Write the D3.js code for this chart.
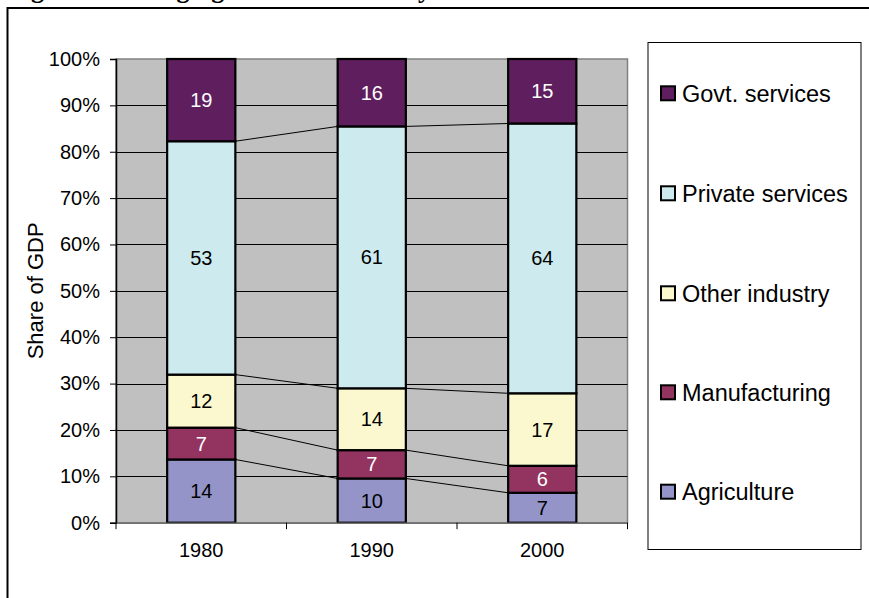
<!DOCTYPE html>
<html>
<head>
<meta charset="utf-8">
<script src="https://cdn.jsdelivr.net/npm/d3@7"></script>
<style>
  body { margin: 0; background: #fff; }
  text { font-family: Arial, "Liberation Sans", sans-serif; }
</style>
</head>
<body>
<svg width="869" height="598"></svg>
<script>
// data (raw values, shown as 100% stacked)
var years = ["1980", "1990", "2000"];
var sectors = ["Agriculture", "Manufacturing", "Other industry", "Private services", "Govt. services"];
var agriculture     = [14.3, 10.3, 7.1];
var manufacturing   = [7.2, 6.6, 6.4];
var otherIndustry   = [12.0, 14.4, 17.2];
var privateServices = [52.8, 61.0, 64.0];
var govtServices    = [18.6, 15.7, 15.3];
var yTicks = [0, .1, .2, .3, .4, .5, .6, .7, .8, .9, 1];

var colors = ["#9494c8", "#933360", "#fbf8d0", "#cdebef", "#5f1f5f"];
var labelColors = ["#000", "#fff", "#000", "#000", "#fff"];

var series = [agriculture, manufacturing, otherIndustry, privateServices, govtServices];
var rows = years.map(function(y, i) {
    var r = { year: y };
    sectors.forEach(function(s, j) { r[s] = series[j][i]; });
    return r;
});

var svg = d3.select("svg");

// page title, mostly cut off at top edge
svg.append("text")
   .attr("x", 8).attr("y", -2)
   .style("font-family", "'Liberation Serif', 'Times New Roman', serif")
   .style("font-weight", "bold")
   .style("font-size", "26px")
   .text("Figure 1: Changing GDP Structure by Sector");

// outer frame (runs off right and bottom)
svg.append("rect")
   .attr("x", 7.5).attr("y", 8).attr("width", 1000).attr("height", 700)
   .attr("fill", "none").attr("stroke", "#000").attr("stroke-width", 2);

var plotL = 116, plotR = 627.5, plotT = 59, plotB = 522.7;

var x = d3.scaleBand().domain(years).range([plotL, plotR]).paddingInner(0.6).paddingOuter(0.3);
var y = d3.scaleLinear().domain([0, 1]).range([plotB, plotT]);

var stack = d3.stack().keys(sectors).offset(d3.stackOffsetExpand);
var stacked = stack(rows);

// plot background
svg.append("rect")
   .attr("x", plotL).attr("y", plotT).attr("width", plotR - plotL).attr("height", plotB - plotT)
   .attr("fill", "#c0c0c0").attr("stroke", "#808080").attr("stroke-width", 1.5);

// gridlines
svg.append("g").selectAll("line")
   .data(yTicks.slice(1, -1))
   .enter().append("line")
   .attr("x1", plotL).attr("x2", plotR)
   .attr("y1", function(d) { return Math.round(y(d)) + 0.5; })
   .attr("y2", function(d) { return Math.round(y(d)) + 0.5; })
   .attr("stroke", "#000").attr("stroke-width", 1);

// series lines between bars
var bw = x.bandwidth();
stacked.slice(0, 4).forEach(function(layer) {
    for (var i = 0; i < years.length - 1; i++) {
        svg.append("line")
           .attr("x1", x(years[i]) + bw).attr("y1", y(layer[i][1]))
           .attr("x2", x(years[i + 1])).attr("y2", y(layer[i + 1][1]))
           .attr("stroke", "#000").attr("stroke-width", 1);
    }
});

// bars
var layers = svg.append("g").selectAll("g")
   .data(stacked)
   .enter().append("g")
   .attr("fill", function(d, i) { return colors[i]; });

layers.selectAll("rect")
   .data(function(d) { return d; })
   .enter().append("rect")
   .attr("x", function(d) { return x(d.data.year); })
   .attr("y", function(d) { return y(d[1]); })
   .attr("width", bw)
   .attr("height", function(d) { return y(d[0]) - y(d[1]); })
   .attr("stroke", "#000").attr("stroke-width", 2.2);

// value labels
stacked.forEach(function(layer, i) {
    svg.append("g").selectAll("text")
       .data(layer)
       .enter().append("text")
       .attr("x", function(d) { return x(d.data.year) + bw / 2; })
       .attr("y", function(d) { return (y(d[0]) + y(d[1])) / 2; })
       .attr("dy", "0.35em")
       .attr("text-anchor", "middle")
       .attr("fill", labelColors[i])
       .style("font-size", "20px")
       .text(function(d) { return Math.round(d.data[layer.key]); });
});

// y axis
var yAxis = svg.append("g")
   .attr("transform", "translate(" + plotL + ",0)")
   .call(d3.axisLeft(y).tickValues(yTicks).tickFormat(d3.format(".0%")).tickSize(6).tickPadding(10));
yAxis.select(".domain").attr("stroke", "#000").attr("stroke-width", 1.5);
yAxis.selectAll("text").style("font-size", "20px").attr("fill", "#000");

// x axis
var xAxis = svg.append("g")
   .attr("transform", "translate(0," + plotB + ")")
   .call(d3.axisBottom(x).tickSize(0).tickPadding(20));
xAxis.select(".domain").attr("stroke", "#707070").attr("stroke-width", 1.5);
xAxis.selectAll("text").style("font-size", "20px").attr("fill", "#000");
var step = (plotR - plotL) / years.length;
xAxis.selectAll(".sep")
   .data(d3.range(years.length + 1))
   .enter().append("line")
   .attr("x1", function(d) { return plotL + d * step; })
   .attr("x2", function(d) { return plotL + d * step; })
   .attr("y1", 0).attr("y2", 6.5)
   .attr("stroke", "#000");

// y title
svg.append("text")
   .attr("transform", "translate(43," + (plotT + plotB) / 2 + ") rotate(-90)")
   .attr("text-anchor", "middle")
   .style("font-size", "22px")
   .text("Share of GDP");

// legend
svg.append("rect")
   .attr("x", 648).attr("y", 42.5).attr("width", 213).attr("height", 507)
   .attr("fill", "#fff").attr("stroke", "#000").attr("stroke-width", 1);

var legendY = [491.7, 392.3, 293.3, 193.3, 93.3];
var leg = svg.append("g").selectAll("g")
   .data(sectors)
   .enter().append("g")
   .attr("transform", function(d, i) { return "translate(661," + legendY[i] + ")"; });
leg.append("rect")
   .attr("x", 0).attr("y", -7).attr("width", 14).attr("height", 14)
   .attr("fill", function(d, i) { return colors[i]; })
   .attr("stroke", "#000").attr("stroke-width", 2);
leg.append("text")
   .attr("x", 21).attr("dy", "0.35em")
   .style("font-size", "23.5px")
   .text(function(d) { return d; });
</script>
</body>
</html>
